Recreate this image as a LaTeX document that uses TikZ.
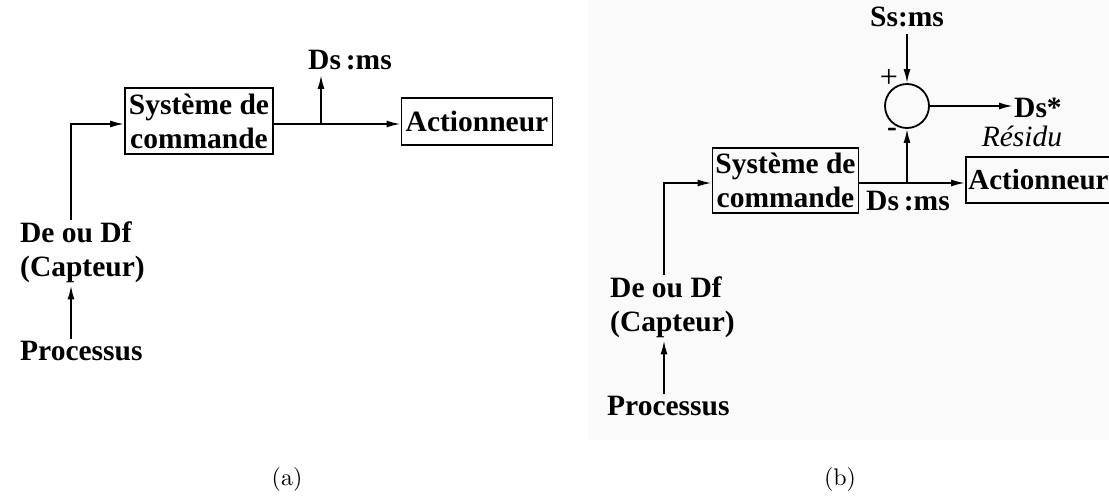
\documentclass[tikz,border=0pt]{standalone}
\usepackage{fontspec}
\newfontfamily\timesfont{Liberation Serif}
\usetikzlibrary{arrows.meta}

\begin{document}
\begin{tikzpicture}[x=1pt,y=-1pt,
  bloc/.style={draw, line width=1.8pt, inner sep=0pt, align=center,
    font=\timesfont\bfseries\fontsize{29.5}{34}\selectfont},
  etiq/.style={inner sep=2pt, align=left,
    font=\timesfont\bfseries\fontsize{29.5}{34}\selectfont},
  fleche/.style={line width=1.8pt, -{Latex[length=14pt,width=7pt]}},
  trait/.style={line width=1.8pt}]
\useasboundingbox (0,0) rectangle (1109,497);
\clip (0,0) rectangle (1109,497);

% fond legerement gris de la figure (b)
\fill[black!2] (588,0) rectangle (1109,440);

% ---------------- figure (a) ----------------
\node[bloc, minimum width=148pt, minimum height=66pt] (cmdA) at (199,121) {Système de\\commande};
\node[bloc, minimum width=151pt, minimum height=47pt] (actA) at (477,121.5) {Actionneur};
\node[etiq] (dsA) at (350,60) {Ds\,:ms};
\node[etiq, anchor=north west] (deA) at (18,220) {De ou Df\\(Capteur)};
\node[etiq, anchor=north west] (procA) at (18,339) {Processus};

\coordinate (colA) at (71,124);
\coordinate (brA) at (321,124);

% liaisons
\draw[fleche] (deA.north -| colA) -- (colA) -- (cmdA.west |- colA);
\draw[fleche] (procA.north -| colA) -- (deA.south -| colA);
\draw[fleche] (cmdA.east |- colA) -- (actA.west |- colA);
\draw[fleche] (brA) -- ++(0,-49);

% ---------------- figure (b) ----------------
\node[bloc, minimum width=146pt, minimum height=65pt] (cmdB) at (785.5,180.5) {Système de\\commande};
% boite coupee par le bord droit
\node[bloc, anchor=west, minimum height=46pt, inner xsep=2.5pt,
  font=\timesfont\bfseries\fontsize{29}{34}\selectfont] (actB) at (965,180) {Actionneur};
\node[circle, draw, trait, minimum size=44pt, inner sep=0pt] (sumB) at (907,106) {};
\node[etiq] (ssB) at (907,17) {Ss:ms};
\node[etiq] (dsB) at (908,201) {Ds\,:ms};
\node[etiq, anchor=west, inner sep=1pt] (dsEt) at (1013,108) {Ds*};
\node[inner sep=0pt, font=\timesfont\itshape\fontsize{29.5}{34}\selectfont] (residu) at (1022,136) {Résidu};
\node[inner sep=0pt, font=\timesfont\fontsize{32}{34}\selectfont] (plus) at (889,78) {+};
\node[inner sep=0pt, font=\timesfont\bfseries\fontsize{29.5}{34}\selectfont] (moins) at (892,132) {-};
\node[etiq, anchor=north west] (deB) at (608,275) {De ou Df\\(Capteur)};
\node[etiq, anchor=north west] (procB) at (605,394) {Processus};

\coordinate (colB) at (664,183);
\coordinate (brB) at (907,183);

% liaisons
\draw[fleche] (deB.north -| colB) -- (colB) -- (cmdB.west |- colB);
\draw[fleche] (procB.north -| colB) -- (deB.south -| colB);
\draw[fleche] (cmdB.east |- colB) -- (actB.west |- colB);
\draw[fleche] (brB) -- (sumB.south);
\draw[fleche, shorten <=5pt] (ssB) -- (sumB.north);
\draw[fleche] (sumB.east) -- (sumB.east -| dsEt.west);

% sous-titres
\node[scale=2.4] (lblA) at (287,479) {(a)};
\node[scale=2.4] (lblB) at (840,479) {(b)};
\end{tikzpicture}
\end{document}
